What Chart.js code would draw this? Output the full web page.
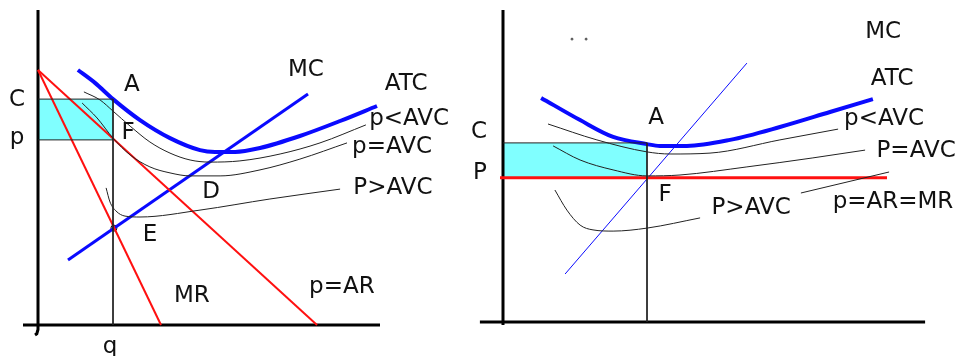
<!DOCTYPE html>
<html>
<head>
<meta charset="utf-8">
<script src="https://cdn.jsdelivr.net/npm/chart.js@4/dist/chart.umd.min.js"></script>
<style>
  body { margin: 0; background: #fff; }
  canvas { position: absolute; top: 0; }
  #leftChart { left: 0; }
  #rightChart { left: 465px; }
</style>
</head>
<body>
<canvas id="leftChart" width="470" height="356"></canvas>
<canvas id="rightChart" width="494" height="356"></canvas>
<script>
// ---- left panel: monopoly (downward sloping AR) ----
const leftYAxis = [[0, 105], [0, -1.5], [-0.4, -2.9], [-1, -3.3]];
const leftXAxis = [[-5, 0], [114, 0]];
const leftQ = 25;          // output q
const leftC = 75.3;        // average total cost at q
const leftP = 61.7;        // price at q
const leftAR = [[0, 85], [93, 0]];
const leftMR = [[0, 85], [41, 0]];
const leftMC = [[10, 21.7], [90, 77]];
const leftATC = [[13.3, 85], [19, 80.7], [25, 75.3], [34, 68.3], [44, 62.3], [54, 58.3],
  [59, 57.7], [65.7, 57.7], [74, 59], [87.3, 63], [100.7, 68], [113, 73]];
const leftAVCHigh = [[15.3, 77.7], [20.7, 75], [25, 71.3], [30.7, 66.3], [37.3, 61], [44, 57.3],
  [50.7, 55], [57.3, 54.3], [67.3, 54.7], [80.7, 57], [94, 60.7], [109.3, 66.7]];
const leftAVCEqual = [[14.7, 74], [19.7, 69], [25, 62.3], [30.7, 56.7], [37.3, 52.7], [44, 50.7],
  [50.7, 49.7], [60.7, 49.7], [74, 51.7], [87.3, 55.3], [103, 60.7]];
const leftAVCLow = [[22.7, 45.7], [24, 41], [26, 38], [29, 36.3], [34, 36], [54, 38.3],
  [77.3, 42], [100.7, 45.3]];
const leftPointE = [[25.3, 32.3]];
const leftLabels = [
  ["A", 31.3, 80], ["F", 30, 64], ["D", 57.7, 44.3], ["E", 37.3, 30],
  ["MC", 89.3, 85], ["ATC", 122.7, 80.3], ["p<AVC", 123.7, 68.7], ["p=AVC", 118, 59.3],
  ["P>AVC", 118.3, 45.7], ["MR", 51.3, 9.7], ["p=AR", 101.3, 12.7],
  ["C", -7, 75], ["p", -7, 62.3], ["q", 24, -7.3]
];

// ---- right panel: perfect competition (flat p = AR = MR) ----
const rightYAxis = [[0, 104], [0, -1]];
const rightXAxis = [[-7.7, 0], [140.7, 0]];
const rightQ = 48;
const rightC = 59.7;
const rightP = 48.1;
const rightDemand = [[-1, 48.1], [128, 48.1]];
const rightMC = [[20.7, 16], [81.3, 86.3]];
const rightATC = [[12.7, 74.7], [25.7, 67.3], [36.7, 61.7], [48, 59.3], [52.3, 58.7], [61.3, 58.7],
  [75.7, 60.7], [92.3, 65], [109, 70], [123.3, 74.3]];
const rightAVCHigh = [[15, 66], [31.3, 60.7], [48, 56.7], [55.7, 56], [69, 56.3], [92.3, 60.7], [111.7, 64.3]];
const rightAVCEqual = [[16.7, 58.7], [25.7, 54], [36.7, 50.7], [48, 48.7], [59, 49], [81.3, 51.7],
  [103.3, 54.7], [120.7, 57.3]];
const rightAVCLow = [[17.3, 44], [21.3, 37.3], [25.7, 32.3], [30, 30.7], [36.7, 30.3], [48, 31.3], [65.7, 34.7]];
const rightAVCLowTail = [[99.3, 43], [128.7, 50]];
const rightDots = [[23, 94.3], [27.7, 94.3]];
const rightLabels = [
  ["MC", 126.7, 96.7], ["ATC", 129.7, 81], ["A", 51, 68], ["p<AVC", 127, 67.7],
  ["P=AVC", 137.7, 57], ["F", 54, 42.3], ["P>AVC", 82.7, 38], ["p=AR=MR", 130, 40],
  ["C", -8, 63.3], ["P", -7.7, 49.7]
];

const BLUE = "#0a0aff";
const RED = "#ff1010";
const INK = "#222";
const CYAN = "#80ffff";

function pts(arr) {
  return arr.map(([x, y]) => ({ x, y }));
}

// simple line dataset
function line(data, color, width, curved) {
  return {
    data: pts(data),
    showLine: true,
    borderColor: color,
    borderWidth: width,
    pointRadius: 0,
    fill: false,
    cubicInterpolationMode: curved ? "monotone" : "default",
    tension: 0
  };
}

// draws the text labels at data coordinates
function labelPlugin(items) {
  return {
    id: "textLabels",
    afterDatasetsDraw(chart) {
      const { ctx, scales } = chart;
      ctx.save();
      ctx.font = "23px 'DejaVu Sans'";
      ctx.fillStyle = "#111";
      ctx.textAlign = "center";
      ctx.textBaseline = "middle";
      items.forEach(([text, x, y]) => {
        ctx.fillText(text, scales.x.getPixelForValue(x), scales.y.getPixelForValue(y));
      });
      ctx.restore();
    }
  };
}

function makeChart(id, datasets, labels, xr, yr) {
  return new Chart(document.getElementById(id), {
    type: "scatter",
    data: { datasets },
    options: {
      responsive: false,
      animation: false,
      layout: { padding: 0, autoPadding: false },
      scales: {
        x: { type: "linear", display: false, min: xr[0], max: xr[1] },
        y: { type: "linear", display: false, min: yr[0], max: yr[1] }
      },
      plugins: {
        legend: { display: false },
        tooltip: { enabled: false },
        filler: { drawTime: "beforeDatasetsDraw" }
      }
    },
    plugins: [labelPlugin(labels)]
  });
}

// left chart
const leftRect = line([[0, leftC], [leftQ, leftC]], INK, 1, false);
leftRect.fill = { value: leftP };
leftRect.backgroundColor = CYAN;
const leftE = line(leftPointE, "#000", 1, false);
leftE.showLine = false;
leftE.pointRadius = 3;
leftE.pointBorderColor = "#000";
leftE.pointBackgroundColor = "rgba(0,0,0,0)";

makeChart("leftChart", [
  leftRect,
  line([[0, leftP], [leftQ, leftP]], INK, 1, false),
  line([[leftQ, leftC], [leftQ, 0]], INK, 1, false),
  line(leftAVCHigh, INK, 1, true),
  line(leftAVCEqual, INK, 1, true),
  line(leftAVCLow, INK, 1, true),
  line(leftAR, RED, 2, false),
  line(leftMR, RED, 2, false),
  line(leftMC, BLUE, 3, false),
  line(leftATC, BLUE, 4, true),
  leftE,
  line(leftYAxis, "#000", 3, false),
  line(leftXAxis, "#000", 3, false)
], leftLabels, [-12.667, 144], [-10.333, 108.333]);

// right chart
const rightRect = line([[0, rightC], [rightQ, rightC]], INK, 1, false);
rightRect.fill = { value: rightP };
rightRect.backgroundColor = CYAN;
const dots = line(rightDots, "#555", 1, false);
dots.showLine = false;
dots.pointRadius = 1;
dots.pointBackgroundColor = "#555";

makeChart("rightChart", [
  rightRect,
  line([[rightQ, rightC], [rightQ, 0]], INK, 1, false),
  line(rightAVCHigh, INK, 1, true),
  line(rightAVCEqual, INK, 1, true),
  line(rightAVCLow, INK, 1, true),
  line(rightAVCLowTail, INK, 1, false),
  line(rightDemand, RED, 3, false),
  line(rightMC, BLUE, 1, false),
  line(rightATC, BLUE, 4, true),
  dots,
  line(rightYAxis, "#000", 3, false),
  line(rightXAxis, "#000", 3, false)
], rightLabels, [-12.667, 152], [-11.333, 107.333]);
</script>
</body>
</html>
